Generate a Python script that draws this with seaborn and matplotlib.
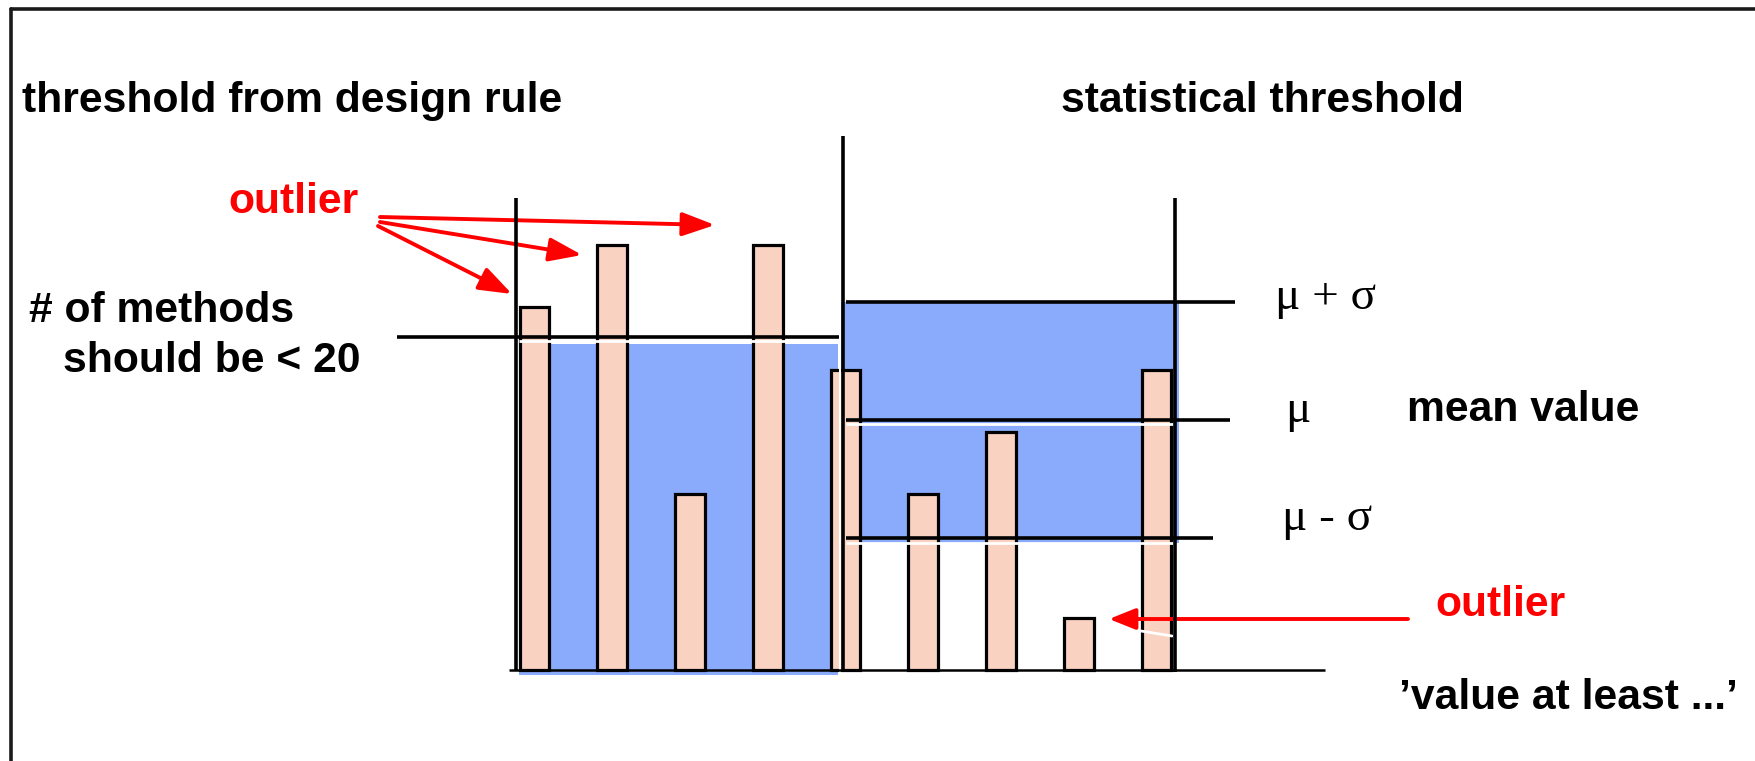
import matplotlib.pyplot as plt
import pandas as pd
import seaborn as sns

# number of methods per class
classes = ["c1", "c2", "c3", "c4", "c5", "c6", "c7", "c8", "c9"]
methods = [21.8, 25.5, 10.6, 25.5, 18.0, 10.6, 14.3, 3.1, 18.0]

design_limit = 20      # threshold from design rule
mu = 15.0              # mean value
sigma = 7.1            # std deviation

# canvas in pixels and mapping of bar slots / values onto it
W, H = 1755, 761
X0, DX = 534.5, 77.75   # pixel of first bar centre, pixels per slot
Y0, DY = 670, 16.65     # pixel of baseline, pixels per unit


def dx(p):
    return (p - X0) / DX


def dy(p):
    return (Y0 - p) / DY


sns.set_style("white")
plt.rcParams["font.family"] = ["Liberation Sans", "DejaVu Sans"]
plt.rcParams["text.color"] = "black"

fig = plt.figure(figsize=(W / 100, H / 100), dpi=100)
ax = fig.add_axes([0, 0, 1, 1])

blue = "#8AAAFB"
peach = "#FAD2C2"
lw = 2.6

# shaded "accepted" regions
ax.fill_between([dx(519), dx(838)], -0.3, design_limit - 0.4, color=blue, lw=0, zorder=1)
ax.fill_between([dx(841), dx(1179)], mu - sigma - 0.3, mu + sigma, color=blue, lw=0, zorder=1)

df = pd.DataFrame({"cls": classes, "methods": methods})
sns.barplot(data=df, x="cls", y="methods", order=classes, color=peach, saturation=1,
            width=0.38, edgecolor="black", linewidth=2.3, errorbar=None, ax=ax, zorder=2)

# little white gaps like in the original slide
ax.hlines(design_limit - 0.22, dx(519), dx(838), color="white", lw=2, zorder=3)
ax.hlines(mu - 0.22, dx(846), dx(1175), color="white", lw=2, zorder=3)
ax.hlines(mu - sigma - 0.27, dx(846), dx(1175), color="white", lw=2, zorder=3)
ax.vlines(dx(840), -0.3, design_limit - 0.4, color="white", lw=1.5, zorder=3)
ax.plot([dx(1141), dx(1172)], [dy(631), dy(636)], color="white", lw=2, zorder=3)

# threshold lines
ax.hlines(design_limit, dx(397), dx(839), color="black", lw=lw, zorder=4)
ax.hlines(mu + sigma, dx(846), dx(1235), color="black", lw=lw, zorder=4)
ax.hlines(mu, dx(846), dx(1230), color="black", lw=lw, zorder=4)
ax.hlines(mu - sigma, dx(846), dx(1213), color="black", lw=lw, zorder=4)

# axes of the two sketches
ax.hlines(0, dx(509), dx(1325), color="black", lw=1.8, zorder=4)
ax.vlines(dx(516), 0, dy(198), color="black", lw=lw, zorder=4)
ax.vlines(dx(843), dy(672), dy(136), color="black", lw=lw, zorder=4)
ax.vlines(dx(1175), dy(672), dy(198), color="black", lw=lw, zorder=4)

ax.set_xlim(dx(0), dx(W))
ax.set_ylim(dy(H), dy(0))
ax.set_axis_off()

# slide frame
fig.add_artist(plt.Line2D([11 / W, 11 / W], [0, 1 - 9 / H], transform=fig.transFigure,
                          color="#1a1a1a", lw=lw))
fig.add_artist(plt.Line2D([11 / W, 1], [1 - 9 / H, 1 - 9 / H], transform=fig.transFigure,
                          color="#1a1a1a", lw=lw))


def label(x, y, s, **kw):
    fig.text(x / W, 1 - y / H, s, va="baseline", ha="left", **kw)


bold = dict(fontsize=30.7, fontweight="bold")
serif = dict(fontsize=34, family=["Liberation Serif", "DejaVu Serif"])

label(22, 112, "threshold from design rule", **bold)
label(1061, 112, "statistical threshold", **bold)
label(228, 213, "outlier", color="red", **bold)
label(29, 322, "# of methods", **bold)
label(63, 372, "should be < 20", **bold)
label(1275, 309, "μ + σ", **serif)
label(1285, 422, "μ", **serif)
label(1407, 421, "mean value", **bold)
label(1282, 530, "μ - σ", **serif)
label(1435, 616, "outlier", color="red", **bold)
label(1399, 709, "’value at least ...’", **bold)

# red arrows
arrow = dict(arrowstyle="-|>,head_length=0.5,head_width=0.18", mutation_scale=40,
             color="red", lw=2.8, shrinkA=0, shrinkB=0)
for (sx, sy), (tx, ty) in [((380, 217), (715, 225)),
                           ((380, 222), (582, 255)),
                           ((378, 226), (512, 294))]:
    ax.annotate("", xy=(tx, H - ty), xytext=(sx, H - sy), xycoords="figure pixels",
                textcoords="figure pixels", arrowprops=arrow)

arrow_r = dict(arrowstyle="-|>,head_length=0.5,head_width=0.2", mutation_scale=32,
               color="red", lw=2.8, shrinkA=0, shrinkB=0)
ax.annotate("", xy=(1109, H - 619), xytext=(1408, H - 619), xycoords="figure pixels",
            textcoords="figure pixels", arrowprops=arrow_r)

fig.savefig("out.png", dpi=100)
